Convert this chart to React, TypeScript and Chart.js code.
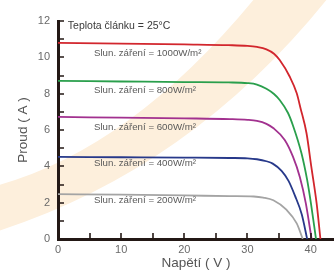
import React, { useEffect, useRef } from 'react';
import { Chart, registerables } from 'chart.js';

Chart.register(...registerables);

// Irradiance series (Voltage V, Current A)
const v1000 = [0, 10, 20, 27, 30, 31.5, 33, 34.2, 35.1, 36.7, 37.8, 38.4, 39.35, 40.1, 40.95, 41.55];
const i1000 = [10.8, 10.76, 10.71, 10.67, 10.63, 10.57, 10.44, 10.2, 9.85, 8.93, 8.02, 7.2, 5.82, 4.0, 1.96, 0];

const v800 = [0, 10, 20, 27, 30, 31.5, 33, 34.2, 35.1, 36.4, 37.2, 38.55, 39.45, 40.05, 40.85];
const i800 = [8.7, 8.67, 8.64, 8.62, 8.58, 8.5, 8.27, 7.98, 7.65, 6.95, 6.25, 4.72, 3.25, 1.96, 0];

const v600 = [0, 10, 20, 27.2, 30, 31.5, 33, 34.07, 35.9, 37.2, 38.3, 39.24, 40.15];
const i600 = [6.72, 6.68, 6.64, 6.6, 6.56, 6.5, 6.34, 6.11, 5.45, 4.53, 3.4, 1.96, 0];

const v400 = [0, 10, 20, 27.2, 30, 31.5, 33, 34, 35.4, 36.5, 37.5, 38.6, 39.45];
const i400 = [4.52, 4.5, 4.48, 4.46, 4.44, 4.39, 4.28, 4.15, 3.75, 3.2, 2.4, 1.35, 0];

const v200 = [0, 10, 20, 27.2, 31, 32.5, 34.1, 36.2, 37.8, 38.75];
const i200 = [2.47, 2.44, 2.4, 2.36, 2.34, 2.28, 2.13, 1.6, 0.86, 0];

const seriesNames = ['1000W/m²', '800W/m²', '600W/m²', '400W/m²', '200W/m²'];
const seriesColors = ['#d2262d', '#2a9f4c', '#a2318f', '#27398a', '#a4a4a4'];

// Annotation labels (anchor voltage / current)
const labelTexts = [
  'Slun. záření = 1000W/m²',
  'Slun. záření = 800W/m²',
  'Slun. záření = 600W/m²',
  'Slun. záření = 400W/m²',
  'Slun. záření = 200W/m²',
];
const labelVoltage = 5.7;
const labelCurrents = [10.24, 8.2, 6.16, 4.16, 2.12];
const tempText = 'Teplota článku = 25°C';
const tempVoltage = 1.55;
const tempCurrent = 11.7;

const xTitle = 'Napětí ( V )';
const yTitle = 'Proud ( A )';

const FONT = '"Liberation Sans", Arial, sans-serif';

const toPoints = (vs: number[], is: number[]) => vs.map((v, k) => ({ x: v, y: is[k] }));

const bandPlugin = {
  id: 'band',
  beforeDraw(chart: any) {
    const ctx = chart.ctx;
    ctx.save();
    ctx.fillStyle = '#fdefdc';
    ctx.beginPath();
    ctx.moveTo(-5, 186);
    ctx.quadraticCurveTo(130, 150, 255, -2);
    ctx.lineTo(328, -2);
    ctx.quadraticCurveTo(190, 170, -5, 232);
    ctx.closePath();
    ctx.fill();
    ctx.restore();
  },
};

const ticksPlugin = {
  id: 'innerTicks',
  afterDraw(chart: any) {
    const ctx = chart.ctx;
    const xs = chart.scales.x;
    const ys = chart.scales.y;
    const area = chart.chartArea;
    ctx.save();
    ctx.strokeStyle = '#231815';
    ctx.lineWidth = 1.6;
    ctx.beginPath();
    xs.ticks.forEach((t: any) => {
      if (t.value > 0 && Math.abs(t.value % 5) < 1e-6) {
        const px = Math.round(xs.getPixelForValue(t.value));
        ctx.moveTo(px, area.bottom);
        ctx.lineTo(px, area.bottom - 6);
      }
    });
    ys.ticks.forEach((t: any) => {
      if (t.value > 0) {
        const py = Math.round(ys.getPixelForValue(t.value));
        ctx.moveTo(area.left, py);
        ctx.lineTo(area.left + 6, py);
      }
    });
    ctx.stroke();

    // annotations
    ctx.textBaseline = 'middle';
    ctx.textAlign = 'left';
    ctx.fillStyle = '#3a3a3a';
    ctx.font = `10.5px ${FONT}`;
    ctx.fillText(tempText, xs.getPixelForValue(tempVoltage), ys.getPixelForValue(tempCurrent));
    ctx.fillStyle = '#5a5a5a';
    ctx.font = `9.7px ${FONT}`;
    labelTexts.forEach((txt, k) => {
      ctx.fillText(txt, xs.getPixelForValue(labelVoltage), ys.getPixelForValue(labelCurrents[k]));
    });
    ctx.restore();
  },
};

export default function App() {
  const ref = useRef<HTMLCanvasElement>(null);
  useEffect(() => {
    if (!ref.current) return;
    const data = [
      toPoints(v1000, i1000),
      toPoints(v800, i800),
      toPoints(v600, i600),
      toPoints(v400, i400),
      toPoints(v200, i200),
    ];
    const chart = new Chart(ref.current, {
      type: 'line',
      data: {
        datasets: data.map((d, k) => ({
          label: seriesNames[k],
          data: d,
          borderColor: seriesColors[k],
          borderWidth: 1.8,
          pointRadius: 0,
          fill: false,
          cubicInterpolationMode: 'monotone' as const,
        })),
      },
      options: {
        responsive: false,
        animation: false,
        devicePixelRatio: 1,
        layout: { padding: { top: 21, left: 0, right: 0, bottom: 0 } },
        plugins: { legend: { display: false }, tooltip: { enabled: false } },
        scales: {
          x: {
            type: 'linear',
            min: 0,
            max: 43.7,
            afterFit: (s: any) => { s.height = 40; },
            grid: { display: false, drawTicks: false },
            border: { display: true, color: '#231815', width: 3 },
            ticks: {
              stepSize: 5,
              includeBounds: false,
              autoSkip: false,
              maxRotation: 0,
              padding: 4,
              color: '#6a6a6a',
              font: { family: FONT, size: 11 },
              callback: (v: any) => (Math.abs(v % 10) < 1e-6 ? String(v) : ''),
            },
            title: {
              display: true,
              text: xTitle,
              color: '#555555',
              font: { family: FONT, size: 13.5 },
              padding: { top: 0, bottom: 8 },
            },
          },
          y: {
            type: 'linear',
            min: 0,
            max: 12,
            afterFit: (s: any) => { s.width = 58; },
            grid: { display: false, drawTicks: false },
            border: { display: true, color: '#231815', width: 3 },
            ticks: {
              stepSize: 1,
              autoSkip: false,
              padding: 8,
              color: '#6a6a6a',
              font: { family: FONT, size: 11 },
              callback: (v: any) => (Math.abs(v % 2) < 1e-6 ? String(v) : ''),
            },
            title: {
              display: true,
              text: yTitle,
              color: '#555555',
              font: { family: FONT, size: 13.5 },
              padding: { top: 15, bottom: 0 },
            },
          },
        },
      },
      plugins: [bandPlugin, ticksPlugin],
    });
    return () => chart.destroy();
  }, []);
  return (
    <canvas
      ref={ref}
      width={334}
      height={279}
      style={{ position: 'absolute', left: 0, top: 0, width: 334, height: 279 }}
    />
  );
}
